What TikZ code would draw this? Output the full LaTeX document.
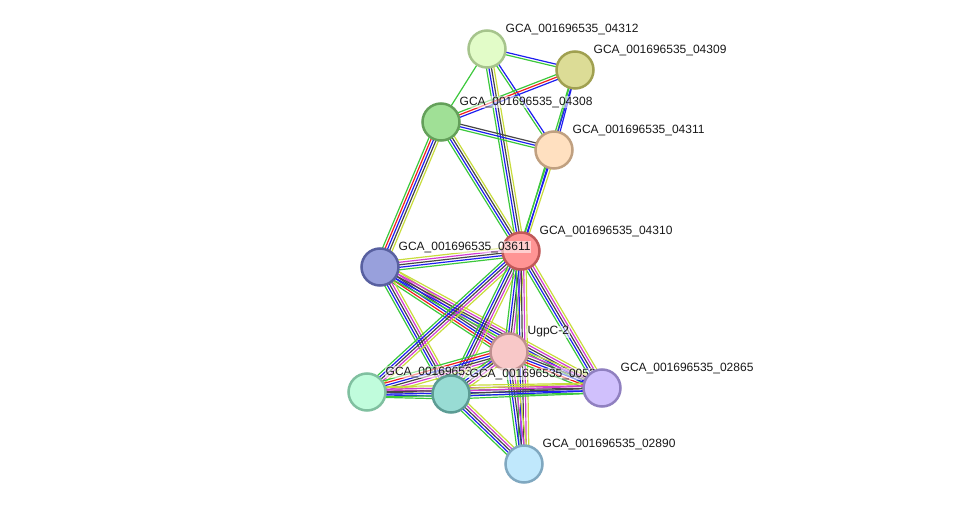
\documentclass[tikz,border=0pt]{standalone}
\usepackage{fontspec}
\setmainfont{Liberation Sans}
\usetikzlibrary{calc,backgrounds}

\definecolor{cgn}{HTML}{3CC83C}
\definecolor{crd}{HTML}{F01E1E}
\definecolor{cbl}{HTML}{1E1EF0}
\definecolor{cbk}{HTML}{464646}
\definecolor{cmg}{HTML}{D23CD2}
\definecolor{cyl}{HTML}{C8DC3C}

% bundle of parallel evidence lines between two proteins
\newcommand\bundle[3]{%
  \foreach \c [count=\i] in {#3} {\xdef\nb{\i}}%
  \foreach \c [count=\i] in {#3} {%
    \pgfmathsetmacro\o{(\i-(\nb+1)/2)*2.5}%
    \draw[\c, line width=1.2pt] ($(#1.center)!\o pt!90:(#2.center)$) -- ($(#2.center)!\o pt!-90:(#1.center)$);
  }}

\tikzset{
  prot/.style={circle, minimum size=37pt, inner sep=0pt, line width=2.5pt, label distance=8pt},
  lab/.style={font=\fontsize{12pt}{14pt}\selectfont, text=black!90, anchor=west, inner sep=0.5pt,
              xshift=4pt, yshift=6pt, fill=white, fill opacity=0.55, text opacity=1},
}

\begin{document}
\begin{tikzpicture}[x=1pt, y=-1pt]
    \useasboundingbox (0,0) rectangle (975,510);

    \node[prot, fill={rgb,255:red,226;green,252;blue,200}, draw={rgb,255:red,166;green,196;blue,140},
          label={[lab]45:GCA\_001696535\_04312}] (p04312) at (487,49) {};
    \node[prot, fill={rgb,255:red,220;green,220;blue,150}, draw={rgb,255:red,160;green,160;blue,80},
          label={[lab]45:GCA\_001696535\_04309}] (p04309) at (575,70) {};
    \node[prot, fill={rgb,255:red,160;green,224;blue,150}, draw={rgb,255:red,100;green,160;blue,90},
          label={[lab]45:GCA\_001696535\_04308}] (p04308) at (441,122) {};
    \node[prot, fill={rgb,255:red,255;green,224;blue,192}, draw={rgb,255:red,192;green,160;blue,128},
          label={[lab]45:GCA\_001696535\_04311}] (p04311) at (554,150) {};
    \node[prot, fill={rgb,255:red,255;green,148;blue,148}, draw={rgb,255:red,192;green,88;blue,88},
          label={[lab]45:GCA\_001696535\_04310}] (p04310) at (521,251) {};
    \node[prot, fill={rgb,255:red,152;green,160;blue,220}, draw={rgb,255:red,88;green,96;blue,160},
          label={[lab]45:GCA\_001696535\_03611}] (p03611) at (380,267) {};
    \node[prot, fill={rgb,255:red,248;green,200;blue,200}, draw={rgb,255:red,192;green,144;blue,144},
          label={[lab]45:UgpC-2}] (ugpc) at (509,352) {};
    \node[prot, fill={rgb,255:red,192;green,252;blue,220}, draw={rgb,255:red,128;green,192;blue,160},
          label={[lab]45:GCA\_00169653}] (pleft) at (367,392) {};
    \node[prot, fill={rgb,255:red,152;green,220;blue,212}, draw={rgb,255:red,92;green,156;blue,148},
          label={[lab]45:GCA\_001696535\_0052}] (pteal) at (451,394) {};
    \node[prot, fill={rgb,255:red,208;green,192;blue,252}, draw={rgb,255:red,144;green,128;blue,192},
          label={[lab]45:GCA\_001696535\_02865}] (p02865) at (602,388) {};
    \node[prot, fill={rgb,255:red,192;green,232;blue,252}, draw={rgb,255:red,128;green,168;blue,192},
          label={[lab]45:GCA\_001696535\_02890}] (p02890) at (524,464) {};

    \begin{pgfonlayer}{background}
    \bundle{p04312}{p04309}{cgn,cbl}
    \bundle{p04312}{p04308}{cgn}
    \bundle{p04312}{p04311}{cgn,cbl}
    \bundle{p04312}{p04310}{cgn,cbl,cbk,cyl}
    \bundle{p04309}{p04308}{cgn,crd,cbl}
    \bundle{p04309}{p04311}{cgn,cbl}
    \bundle{p04309}{p04310}{cgn,cbl}
    \bundle{p04308}{p04311}{cgn,cbl,cbk}
    \bundle{p04308}{p04310}{cgn,cbl,cbk,cyl}
    \bundle{p04308}{p03611}{cgn,crd,cbl,cbk,cyl}
    \bundle{p04311}{p04310}{cgn,cbl,cyl}
    \bundle{p03611}{p04310}{cgn,cbl,cbk,cmg,cyl}
    \bundle{p03611}{ugpc}{cgn,crd,cbl,cbk,cmg,cyl}
    \bundle{p03611}{pteal}{cgn,cbl,cbk,cmg,cyl}
    \bundle{p03611}{p02865}{cgn,cbl,cbk,cmg,cyl}
    \bundle{p04310}{pleft}{cgn,cbl,cbk,cmg,cyl}
    \bundle{p04310}{pteal}{cgn,cbl,cbk,cmg,cyl}
    \bundle{p04310}{ugpc}{cgn,cbl,cbk,cmg,cyl}
    \bundle{p04310}{p02865}{cgn,cbl,cbk,cmg,cyl}
    \bundle{p04310}{p02890}{cgn,cbl,cbk,cmg,cyl}
    \bundle{ugpc}{pleft}{cgn,crd,cbl,cbk,cmg,cyl}
    \bundle{ugpc}{pteal}{cgn,cbl,cbk,cmg,cyl}
    \bundle{ugpc}{p02865}{cgn,crd,cbl,cbk,cmg,cyl}
    \bundle{ugpc}{p02890}{cgn,cbl,cbk,cmg,cyl}
    \bundle{pleft}{pteal}{cgn,cbl,cbk,cmg,cyl}
    \bundle{pleft}{p02865}{cgn,cbl,cbk,cmg,cyl}
    \bundle{pteal}{p02865}{cgn,cbl,cbk,cmg,cyl}
    \bundle{pteal}{p02890}{cgn,cbl,cbk,cmg,cyl}
    \end{pgfonlayer}
\end{tikzpicture}
\end{document}
